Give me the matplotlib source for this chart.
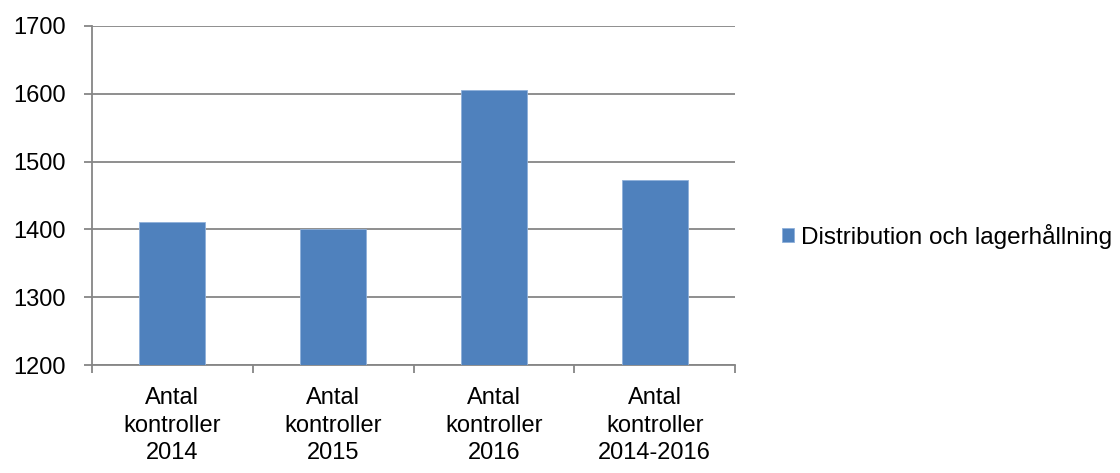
import numpy as np
import matplotlib
matplotlib.use("Agg")
import matplotlib.pyplot as plt
from matplotlib.patches import Patch

categories = ["Antal\nkontroller\n2014", "Antal\nkontroller\n2015",
              "Antal\nkontroller\n2016", "Antal\nkontroller\n2014-2016"]
values = [1411, 1400, 1606, 1473]
series_name = "Distribution och lagerhållning"
y_ticks = [1200, 1300, 1400, 1500, 1600, 1700]

plt.rcParams['font.family'] = ['Liberation Sans', 'DejaVu Sans']
bar_color = '#4F81BD'
grid_color = '#868686'

fig = plt.figure(figsize=(11.2, 4.73), dpi=100)
ax = fig.add_axes([92/1120, 1 - 365/473, (735 - 92)/1120, (365 - 26)/473])

x = np.arange(len(categories))
ax.bar(x, values, width=0.41, color=bar_color, edgecolor='#8FB0DA', linewidth=0.6,
       zorder=3, label=series_name)

ax.set_xlim(-0.5, len(categories) - 0.5)
ax.set_ylim(y_ticks[0], y_ticks[-1])
ax.set_yticks(y_ticks)
ax.yaxis.grid(True, color=grid_color, linewidth=1.3, zorder=0)
ax.set_axisbelow(True)

# category boundaries as major ticks, labels on minor ticks
ax.set_xticks(np.arange(len(categories) + 1) - 0.5)
ax.set_xticklabels([])
ax.set_xticks(x, minor=True)
ax.set_xticklabels(categories, minor=True)
for lbl in ax.get_xticklabels(minor=True):
    lbl.set_linespacing(1.32)
ax.tick_params(axis='x', which='major', length=6, width=1.3, color=grid_color, direction='out')
ax.tick_params(axis='x', which='minor', length=0, pad=16, labelsize=17)
ax.tick_params(axis='y', length=6, width=1.3, color=grid_color, pad=13, labelsize=17)

for side in ['top', 'right']:
    ax.spines[side].set_visible(False)
for side in ['left', 'bottom']:
    ax.spines[side].set_color(grid_color)
    ax.spines[side].set_linewidth(1.3)

handle = Patch(facecolor=bar_color, edgecolor='#8FB0DA', linewidth=0.6)
fig.legend([handle], [series_name], loc='center left',
           bbox_to_anchor=(772/1120, 1 - 236/473), frameon=False,
           fontsize=17.5, handlelength=0.5, handleheight=0.5, handletextpad=0.3,
           borderaxespad=0)

fig.savefig("out.png", dpi=100)
